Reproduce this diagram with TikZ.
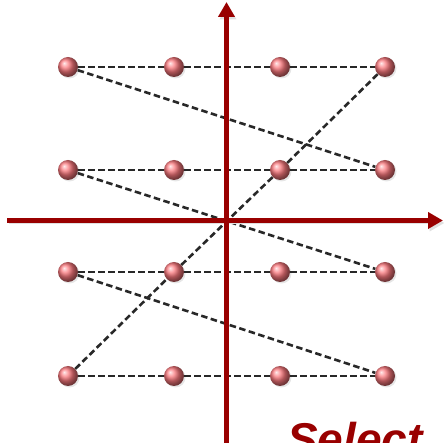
\documentclass[tikz,border=0pt]{standalone}
\usepackage{fontspec}
\newfontfamily\folienfont{Liberation Sans}
\usetikzlibrary{arrows.meta, shadows}

\definecolor{achsenrot}{RGB}{153,0,0}
\definecolor{kugelrot}{RGB}{250,120,125}
\definecolor{wegfarbe}{RGB}{40,40,40}

\begin{document}
\begin{tikzpicture}[x=1pt, y=-1pt,
    kugel/.style={circle, inner sep=0pt, minimum size=20pt, shading=ball, ball color=kugelrot,
        drop shadow={opacity=0.2, shadow xshift=1.5pt, shadow yshift=-1.5pt}},
    weg/.style={wegfarbe, line width=2.6pt, dash pattern=on 6.5pt off 3.5pt},
    achse/.style={achsenrot, line width=5pt, -{Triangle[length=15pt, width=16pt]},
        preaction={draw=black!12, transform canvas={shift={(1.5pt,-2.5pt)}}}}]

    % 0. Bildausschnitt
    \useasboundingbox (0,0) rectangle (445,443);
    \clip (0,0) rectangle (445,443);

    % 1. Gitterpunkte (Zeile, Spalte)
    \node[kugel] (p11) at (68,67) {};
    \node[kugel] (p12) at (174,67) {};
    \node[kugel] (p13) at (280,67) {};
    \node[kugel] (p14) at (385,67) {};

    \node[kugel] (p21) at (68,170) {};
    \node[kugel] (p22) at (174,170) {};
    \node[kugel] (p23) at (280,170) {};
    \node[kugel] (p24) at (385,170) {};

    \node[kugel] (p31) at (68,272) {};
    \node[kugel] (p32) at (174,272) {};
    \node[kugel] (p33) at (280,272) {};
    \node[kugel] (p34) at (385,272) {};

    \node[kugel] (p41) at (68,376) {};
    \node[kugel] (p42) at (174,376) {};
    \node[kugel] (p43) at (280,376) {};
    \node[kugel] (p44) at (385,376) {};

    % 2. Zeilen (gestrichelt)
    \draw[weg] (p11) -- (p12) -- (p13) -- (p14);
    \draw[weg] (p21) -- (p22) -- (p23) -- (p24);
    \draw[weg] (p31) -- (p32) -- (p33) -- (p34);
    \draw[weg] (p41) -- (p42) -- (p43) -- (p44);

    % 3. Diagonalen
    \draw[weg] (p11) -- (p24);
    \draw[weg] (p21) -- (p34);
    \draw[weg] (p31) -- (p44);
    \draw[weg] (p41) -- (p32) -- (p23) -- (p14);

    % 4. Achsen
    \coordinate (xa) at (7,220.5);
    \coordinate (xe) at (443,220.5);
    \coordinate (ya) at (226.5,443);
    \coordinate (ye) at (226.5,2);
    \draw[achse] (xa) -- (xe);
    \draw[achse] (ya) -- (ye);

    % 5. Beschriftung (abgeschnitten)
    \node[anchor=base west, inner sep=0pt, text=achsenrot,
        font=\folienfont\bfseries\itshape\fontsize{46}{46}\selectfont] (auswahl) at (287,456) {Select};

\end{tikzpicture}
\end{document}
